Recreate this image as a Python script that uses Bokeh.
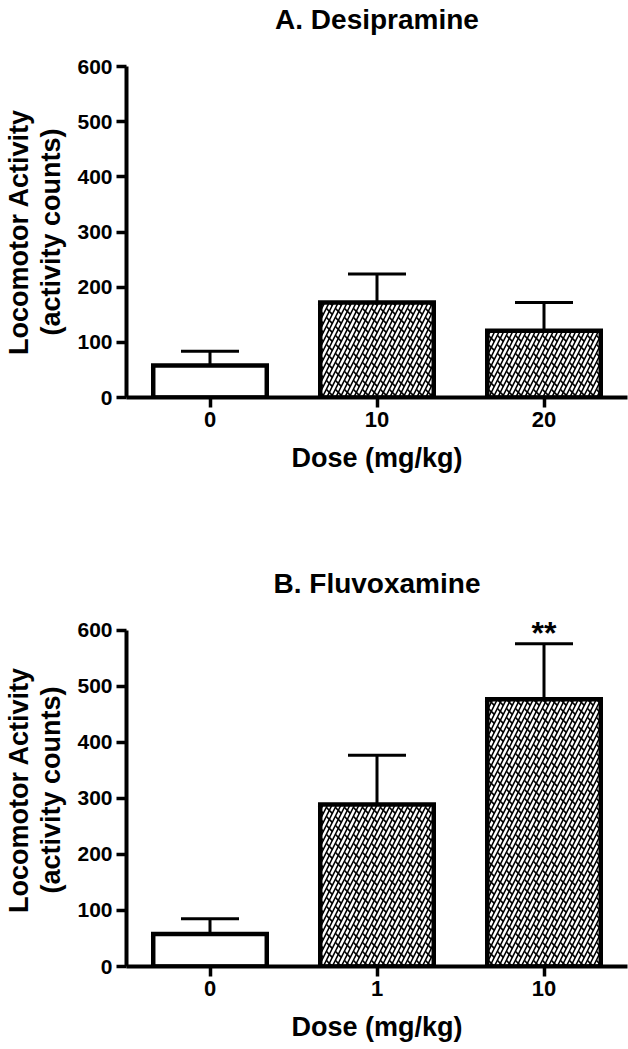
from bokeh.plotting import figure
from bokeh.layouts import column
from bokeh.models import (ColumnDataSource, Whisker, TeeHead, FactorRange, Range1d,
                          FixedTicker, LinearAxis)
from bokeh.embed import file_html
from bokeh.resources import INLINE
from bokeh.core.properties import value

FONT = "Liberation Sans"

# ---- data ----
doses_a = ["0", "10", "20"]
mean_a = [58, 172, 121]
sem_a = [26, 52, 51]

doses_b = ["0", "1", "10"]
mean_b = [58, 289, 477]
sem_b = [27, 88, 99]
sig_b = ["", "", "**"]

y_ticks = [0, 100, 200, 300, 400, 500, 600]
titles = ["A. Desipramine", "B. Fluvoxamine"]
x_label = "Dose (mg/kg)"
y_label_1 = "Locomotor Activity"
y_label_2 = "(activity counts)"


def bare_axis(label, size, standoff):
    return LinearAxis(ticker=FixedTicker(ticks=[]), axis_line_color=None,
                      major_tick_out=0, major_tick_in=0,
                      minor_tick_out=0, minor_tick_in=0,
                      axis_label=label, axis_label_standoff=standoff,
                      axis_label_text_font=FONT,
                      axis_label_text_font_size=size,
                      axis_label_text_font_style="bold",
                      axis_label_text_color="black")


def panel(title, doses, means, sems, height, top, bottom, y_end, t_standoff,
          sig=None):
    upper = [m + s for m, s in zip(means, sems)]
    hatch = ["blank" if d == "0" else "right_diagonal_line" for d in doses]
    hatch2 = ["blank" if d == "0" else "left_diagonal_dash" for d in doses]
    src = ColumnDataSource(dict(dose=doses, mean=means, upper=upper,
                                hatch=hatch, hatch2=hatch2,
                                sig=sig if sig else [""] * len(doses)))
    p = figure(width=628, height=height,
               x_range=FactorRange(factors=doses, range_padding=0),
               y_range=Range1d(0, y_end),
               output_backend="svg", toolbar_location=None,
               min_border_left=125, min_border_right=1,
               min_border_top=top, min_border_bottom=bottom,
               outline_line_color=None, background_fill_color="white")
    xa = p.xaxis[0]
    ya = p.yaxis[0]
    p.xgrid.visible = False
    p.ygrid.visible = False

    p.vbar(x="dose", top="mean", width=0.68, source=src,
           fill_color="white", line_color="black", line_width=4.5,
           line_join="miter",
           hatch_pattern="hatch", hatch_color="black",
           hatch_weight=1.6, hatch_scale=9)
    p.vbar(x="dose", top="mean", width=0.66, source=src,
           fill_alpha=0, line_alpha=0,
           hatch_pattern="hatch2", hatch_color="black",
           hatch_weight=1.6, hatch_scale=9)

    w = Whisker(source=src, base="dose", lower="mean", upper="upper",
                dimension="height", line_width=3, line_color="black",
                upper_head=TeeHead(size=58, line_width=3, line_color="black"),
                lower_head=None)
    p.add_layout(w)

    if sig:
        p.text(x="dose", y="upper", text="sig", source=src, y_offset=-11,
               text_align="center", text_baseline="alphabetic",
               text_font=value(FONT), text_font_size="32px",
               text_font_style="bold", text_color="black")

    for ax in (xa, ya):
        ax.axis_line_width = 4
        ax.axis_line_color = "black"
        ax.major_tick_line_width = 3.5
        ax.major_tick_line_color = "black"
        ax.major_tick_out = 10
        ax.major_tick_in = 0
        ax.minor_tick_out = 0
        ax.minor_tick_in = 0
        ax.major_label_text_font = FONT
        ax.major_label_text_font_style = "bold"
        ax.major_label_text_color = "black"
        ax.axis_label_text_font = FONT
        ax.axis_label_text_font_style = "bold"
        ax.axis_label_text_color = "black"

    ya.ticker = FixedTicker(ticks=y_ticks)
    ya.bounds = (0, 600)
    ya.major_label_text_font_size = "21px"
    ya.major_label_standoff = 4
    ya.axis_label = y_label_2
    ya.axis_label_text_font_size = "27px"
    ya.axis_label_standoff = 8

    xa.major_label_text_font_size = "22px"
    xa.major_label_standoff = 4
    xa.axis_label = x_label
    xa.axis_label_text_font_size = "27px"
    xa.axis_label_standoff = 13

    # outer line of the y label, and the panel title above the frame
    p.add_layout(bare_axis(y_label_1, "27px", 0), "left")
    p.add_layout(bare_axis(title, "28px", t_standoff), "above")
    return p


pa = panel(titles[0], doses_a, mean_a, sem_a, 508, 63, 111, 600, 32)
pb = panel(titles[1], doses_b, mean_b, sem_b, 541, 105, 83, 630, 15, sig_b)

layout = column(pa, pb, spacing=0)
open("out.html", "w").write(file_html(layout, INLINE))
